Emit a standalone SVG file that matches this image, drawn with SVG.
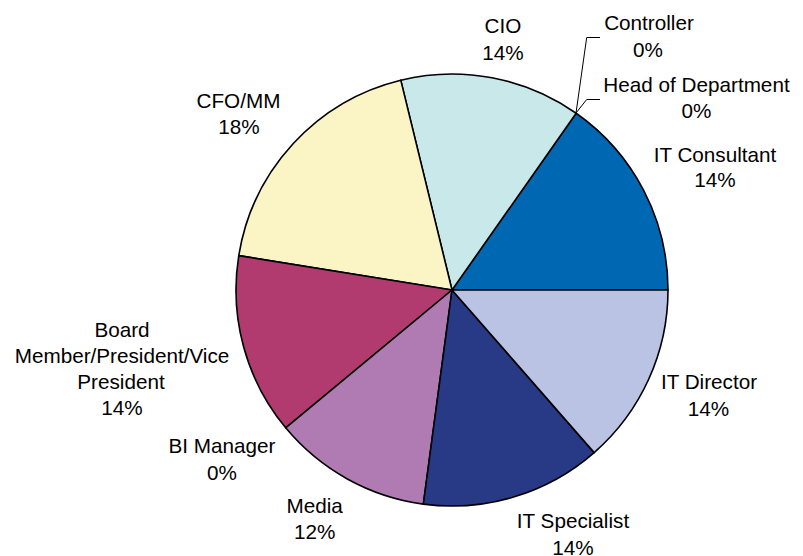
<svg xmlns="http://www.w3.org/2000/svg" width="803" height="556" viewBox="0 0 803 556">
<style>
.s{stroke:#000;stroke-width:1.6;stroke-linejoin:round}
.l{font-family:"Liberation Sans",Arial,Helvetica,sans-serif;font-size:20.7px;fill:#000;text-anchor:middle}
.ld{fill:none;stroke:#000;stroke-width:1}
</style>
<rect width="803" height="556" fill="#fff"/>
<g id="slice-it-consultant"><path class="s" fill="#0068B3" d="M452,290 L668,290 A216,216 0 0 0 576.16,113.25 Z"/></g>
<g id="slice-cio"><path class="s" fill="#C8E8EA" d="M452,290 L576.16,113.25 A216,216 0 0 0 400.74,80.18 Z"/></g>
<g id="slice-cfo"><path class="s" fill="#FBF5C6" d="M452,290 L400.74,80.18 A216,216 0 0 0 238.75,255.63 Z"/></g>
<g id="slice-board"><path class="s" fill="#B13A6F" d="M452,290 L238.75,255.63 A216,216 0 0 0 285.69,427.83 Z"/></g>
<g id="slice-media"><path class="s" fill="#B07AB3" d="M452,290 L285.69,427.83 A216,216 0 0 0 423.33,504.09 Z"/></g>
<g id="slice-it-specialist"><path class="s" fill="#283A86" d="M452,290 L423.33,504.09 A216,216 0 0 0 594.18,452.61 Z"/></g>
<g id="slice-it-director"><path class="s" fill="#BAC3E3" d="M452,290 L594.18,452.61 A216,216 0 0 0 668,290 Z"/></g>
<g id="connectors">
<polyline class="ld" points="576,113 586.7,37.5 600,37.5"/>
<polyline class="ld" points="576,113 586.7,99.5 600,99.5"/>
</g>
<g id="label-cio"><text class="l" x="503" y="33">CIO</text><text class="l" x="503" y="60">14%</text></g>
<g id="label-controller"><text class="l" x="649" y="30">Controller</text><text class="l" x="648" y="56.5">0%</text></g>
<g id="label-head"><text class="l" x="696.5" y="91.5">Head of Department</text><text class="l" x="696.5" y="118">0%</text></g>
<g id="label-it-consultant"><text class="l" x="715" y="161.5">IT Consultant</text><text class="l" x="715" y="187">14%</text></g>
<g id="label-cfo"><text class="l" x="238.5" y="108.3">CFO/MM</text><text class="l" x="239" y="134">18%</text></g>
<g id="label-board"><text class="l" x="122" y="336.5">Board</text><text class="l" x="122" y="363">Member/President/Vice</text><text class="l" x="121" y="389.3">President</text><text class="l" x="122" y="415">14%</text></g>
<g id="label-it-director"><text class="l" x="709" y="389.3">IT Director</text><text class="l" x="708.5" y="416">14%</text></g>
<g id="label-bi"><text class="l" x="222" y="453.3">BI Manager</text><text class="l" x="222" y="480">0%</text></g>
<g id="label-media"><text class="l" x="314.7" y="512.7">Media</text><text class="l" x="314.7" y="538.5">12%</text></g>
<g id="label-it-specialist"><text class="l" x="573" y="528.3">IT Specialist</text><text class="l" x="573" y="554.5">14%</text></g>
</svg>
